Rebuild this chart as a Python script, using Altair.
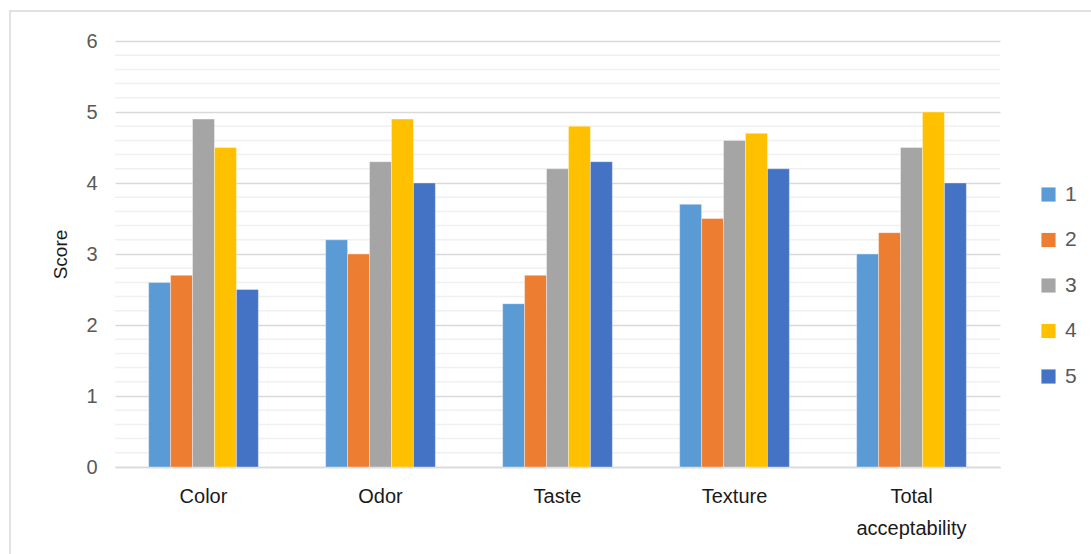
import altair as alt
import pandas as pd

categories = ["Color", "Odor", "Taste", "Texture", "Total acceptability"]
series_names = ["1", "2", "3", "4", "5"]
s1 = [2.6, 3.2, 2.3, 3.7, 3.0]
s2 = [2.7, 3.0, 2.7, 3.5, 3.3]
s3 = [4.9, 4.3, 4.2, 4.6, 4.5]
s4 = [4.5, 4.9, 4.8, 4.7, 5.0]
s5 = [2.5, 4.0, 4.3, 4.2, 4.0]
colors = ["#5B9BD5", "#ED7D31", "#A5A5A5", "#FFC000", "#4472C4"]
major_ticks = [0, 1, 2, 3, 4, 5, 6]
minor_ticks = [0.2, 0.4, 0.6, 0.8, 1.2, 1.4, 1.6, 1.8, 2.2, 2.4, 2.6, 2.8,
               3.2, 3.4, 3.6, 3.8, 4.2, 4.4, 4.6, 4.8, 5.2, 5.4, 5.6, 5.8]

rows = []
for name, vals in zip(series_names, [s1, s2, s3, s4, s5]):
    for c, v in zip(categories, vals):
        rows.append({"category": c, "series": name, "value": v})
df = pd.DataFrame(rows)
minor_df = pd.DataFrame({"value": minor_ticks})

W, H = 885, 426
FONT = "Liberation Sans"

yscale = alt.Scale(domain=[0, 6], nice=False)
yaxis = alt.Axis(
    values=major_ticks,
    labelFontSize=20,
    labelColor="#595959",
    labelFont=FONT,
    labelPadding=18,
    ticks=False,
    domain=False,
    gridColor="#d9d9d9",
    gridWidth=1.5,
    titleFontSize=19,
    titleFont=FONT,
    titleColor="#1a1a1a",
    titleFontWeight="normal",
    titleX=-55,
    titleY=213,
    titleAlign="center",
    titleBaseline="middle",
)

border = alt.Chart(pd.DataFrame({"a": [0]})).mark_rect(
    fill=None, stroke="#d9d9d9", strokeWidth=1.5, clip=False
).encode(
    x=alt.value(-105), x2=alt.value(1100), y=alt.value(-30), y2=alt.value(600)
)

minor = alt.Chart(minor_df).mark_rule(color="#f0f0f0", strokeWidth=1.5).encode(
    y=alt.Y("value:Q", scale=yscale, title="Score", axis=yaxis)
)

bars = alt.Chart(df).mark_bar(stroke="white", strokeWidth=0.6, strokeOpacity=0.6).encode(
    x=alt.X(
        "category:N",
        sort=categories,
        scale=alt.Scale(paddingInner=0.38, paddingOuter=0.19),
        axis=alt.Axis(
            title=None,
            labelAngle=0,
            labelFontSize=20,
            labelColor="#1a1a1a",
            labelFont=FONT,
            labelPadding=19,
            labelLineHeight=32,
            labelBaseline="top",
            ticks=False,
            domainColor="#d9d9d9",
            domainWidth=1.5,
            labelExpr="datum.value == 'Total acceptability' ? ['Total', 'acceptability'] : datum.value",
        ),
    ),
    xOffset=alt.XOffset("series:N", sort=series_names),
    y=alt.Y("value:Q", scale=yscale, title="Score", axis=yaxis),
    color=alt.Color(
        "series:N",
        sort=series_names,
        scale=alt.Scale(domain=series_names, range=colors),
        legend=alt.Legend(
            title=None,
            orient="none",
            legendX=923,
            legendY=143,
            symbolType="square",
            symbolSize=200,
            symbolStrokeWidth=0,
            labelFontSize=21,
            labelFont=FONT,
            labelColor="#595959",
            labelOffset=6,
            rowPadding=23.5,
        ),
    ),
)

chart = alt.layer(border, minor, bars).properties(
    width=W,
    height=H,
    padding={"left": 115, "top": 41, "right": 91, "bottom": 87},
    autosize=alt.AutoSizeParams(type="none"),
).configure_view(stroke=None)

chart.save("out.html", embed_options={"renderer": "svg", "actions": False})
